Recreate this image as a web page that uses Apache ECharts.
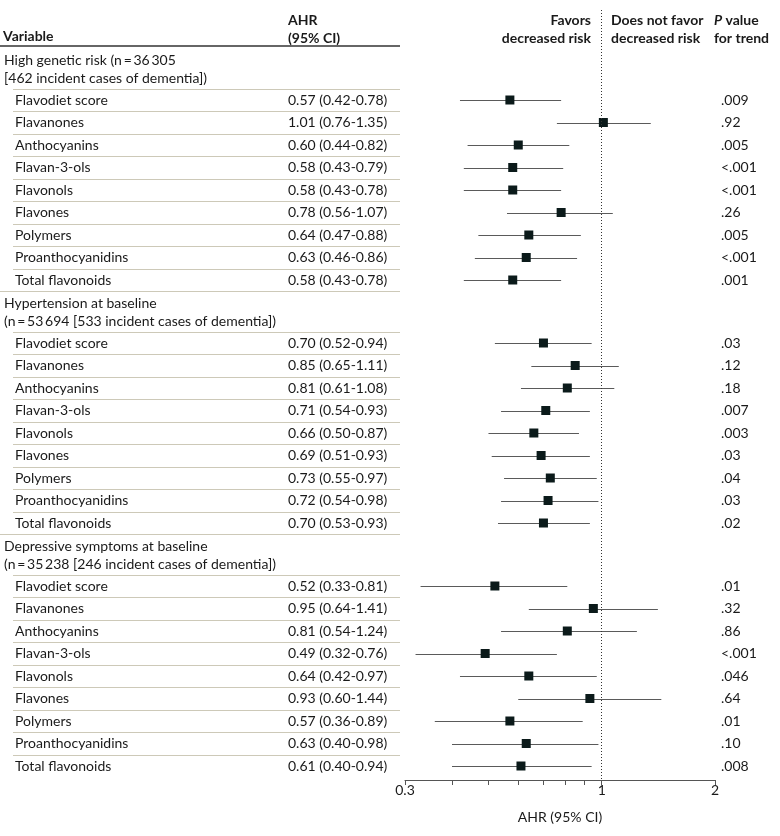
<!DOCTYPE html>
<html><head><meta charset="utf-8">
<script src="https://cdn.jsdelivr.net/npm/echarts@6/dist/echarts.min.js"></script>
<style>html,body{margin:0;padding:0;background:#fff}#c{width:780px;height:836px}</style>
</head><body><div id="c"></div>
<script>
const variables = ['Flavodiet score','Flavanones','Anthocyanins','Flavan-3-ols','Flavonols','Flavones','Polymers','Proanthocyanidins','Total flavonoids'];
const groupTitles = [
  ['High genetic risk (n\u2009=\u200936\u2009305', '[462 incident cases of dementia])'],
  ['Hypertension at baseline', '(n\u2009=\u200953\u2009694 [533 incident cases of dementia])'],
  ['Depressive symptoms at baseline', '(n\u2009=\u200935\u2009238 [246 incident cases of dementia])']
];
const ahrGenetic  = [0.57,1.01,0.60,0.58,0.58,0.78,0.64,0.63,0.58];
const lowGenetic  = [0.42,0.76,0.44,0.43,0.43,0.56,0.47,0.46,0.43];
const highGenetic = [0.78,1.35,0.82,0.79,0.78,1.07,0.88,0.86,0.78];
const pGenetic    = ['.009','.92','.005','<.001','<.001','.26','.005','<.001','.001'];
const ahrHypert   = [0.70,0.85,0.81,0.71,0.66,0.69,0.73,0.72,0.70];
const lowHypert   = [0.52,0.65,0.61,0.54,0.50,0.51,0.55,0.54,0.53];
const highHypert  = [0.94,1.11,1.08,0.93,0.87,0.93,0.97,0.98,0.93];
const pHypert     = ['.03','.12','.18','.007','.003','.03','.04','.03','.02'];
const ahrDepress  = [0.52,0.95,0.81,0.49,0.64,0.93,0.57,0.63,0.61];
const lowDepress  = [0.33,0.64,0.54,0.32,0.42,0.60,0.36,0.40,0.40];
const highDepress = [0.81,1.41,1.24,0.76,0.97,1.44,0.89,0.98,0.94];
const pDepress    = ['.01','.32','.86','<.001','.046','.64','.01','.10','.008'];
const xTickValues = [0.3,0.4,0.5,0.6,0.7,0.8,0.9,1,2];
const xLabelValues = [0.3,1,2];

const groups = [
  {hr: ahrGenetic, lo: lowGenetic, hi: highGenetic, p: pGenetic},
  {hr: ahrHypert, lo: lowHypert, hi: highHypert, p: pHypert},
  {hr: ahrDepress, lo: lowDepress, hi: highDepress, p: pDepress}
];

const FONT = 'Lato, sans-serif';
const TXT = '#1a1a1a';
const GROUP_STEP = 10.8;
const P_X = 721;
const rowY = (g, r) => g * GROUP_STEP + r;

const texts = [];
const seps = [];
const ciData = [];
const ptData = [];
groups.forEach((gr, g) => {
  const y0 = rowY(g, 0);
  texts.push({y: y0 - 1.74, text: groupTitles[g][0], x: 4});
  texts.push({y: y0 - 0.97, text: groupTitles[g][1], x: 4});
  seps.push({y: y0 - 0.5, x0: 13});
  variables.forEach((v, r) => {
    const y = rowY(g, r);
    texts.push({y, text: v, x: 15});
    texts.push({y, text: gr.hr[r].toFixed(2) + ' (' + gr.lo[r].toFixed(2) + '-' + gr.hi[r].toFixed(2) + ')', x: 288});
    texts.push({y, text: gr.p[r], x: P_X});
    if (r < 8) seps.push({y: y + 0.5, x0: 13});
    else if (g < 2) seps.push({y: y + 0.5, x0: 0});
    ciData.push([gr.lo[r], gr.hi[r], y]);
    ptData.push([gr.hr[r], y]);
  });
});

const chart = echarts.init(document.getElementById('c'));
chart.setOption({
  animation: false,
  backgroundColor: '#fff',
  textStyle: {fontFamily: FONT},
  grid: {left: 405, right: 65, top: 10, bottom: 56, containLabel: false},
  xAxis: {
    type: 'log', logBase: 10, min: 0.3, max: 2,
    name: 'AHR (95% CI)', nameLocation: 'middle', nameGap: 30,
    nameTextStyle: {fontFamily: FONT, fontSize: 14, color: TXT},
    axisLine: {show: true, onZero: false, lineStyle: {color: '#555', width: 1}},
    axisTick: {show: true, length: 5, inside: false, customValues: xTickValues, lineStyle: {color: '#555'}},
    axisLabel: {show: true, customValues: xLabelValues, fontFamily: FONT, fontSize: 14, color: TXT, margin: 3,
      formatter: v => String(v)},
    splitLine: {show: false}, minorTick: {show: false}
  },
  yAxis: {type: 'value', inverse: true, min: -4, max: 30.222, show: false},
  graphic: [
    {type: 'text', left: 3, top: 29, style: {text: 'Variable', font: 'bold 14px ' + FONT, fill: TXT}},
    {type: 'text', left: 288, top: 11, style: {text: 'AHR\n(95% CI)', font: 'bold 14px ' + FONT, fill: TXT, lineHeight: 18}},
    {type: 'text', x: 591, y: 11, style: {text: 'Favors\ndecreased risk', font: 'bold 14px ' + FONT, fill: TXT, lineHeight: 18, align: 'right'}},
    {type: 'text', x: 611, y: 11, style: {text: 'Does not favor\ndecreased risk', font: 'bold 14px ' + FONT, fill: TXT, lineHeight: 18, align: 'left'}},
    {type: 'text', x: 714, y: 11, style: {text: '{i|P} value\nfor trend', font: 'bold 14px ' + FONT, fill: TXT, lineHeight: 18,
      rich: {i: {fontStyle: 'italic', fontWeight: 'bold', fontFamily: FONT, fontSize: 14, fill: TXT}}}},
    {type: 'line', shape: {x1: 0, y1: 46, x2: 400, y2: 46}, style: {stroke: '#333', lineWidth: 1.5}}
  ],
  series: [
    {
      type: 'custom', clip: false, silent: true, z: 1,
      data: seps.map(s => [1, s.y]),
      renderItem: (params, api) => {
        const s = seps[params.dataIndex];
        const py = Math.round(api.coord([1, api.value(1)])[1]) + 0.5;
        return {type: 'line', shape: {x1: s.x0, y1: py, x2: 400, y2: py}, style: {stroke: '#cdc9b8', lineWidth: 1}};
      }
    },
    {
      type: 'custom', clip: false, silent: true, z: 3,
      data: texts.map(t => [1, t.y]),
      renderItem: (params, api) => {
        const t = texts[params.dataIndex];
        const py = api.coord([1, api.value(1)])[1];
        return {type: 'text', x: t.x, y: py, style: {text: t.text, font: '14px ' + FONT, fill: TXT, verticalAlign: 'middle', align: 'left'}};
      }
    },
    {
      type: 'custom', clip: false, silent: true, z: 2,
      data: ciData,
      renderItem: (params, api) => {
        const a = api.coord([api.value(0), api.value(2)]);
        const b = api.coord([api.value(1), api.value(2)]);
        const py = Math.round(a[1]) + 0.5;
        return {type: 'line', shape: {x1: a[0], y1: py, x2: b[0], y2: py}, style: {stroke: '#5a5a5a', lineWidth: 1}};
      }
    },
    {
      type: 'scatter', symbol: 'rect', symbolSize: 9, z: 4, silent: true,
      itemStyle: {color: '#0b1a1a', opacity: 1},
      data: ptData,
      markLine: {
        silent: true, symbol: 'none', label: {show: false},
        lineStyle: {type: [1, 2], color: '#333', width: 1},
        data: [{xAxis: 1}]
      }
    }
  ]
});
</script>
</body></html>
